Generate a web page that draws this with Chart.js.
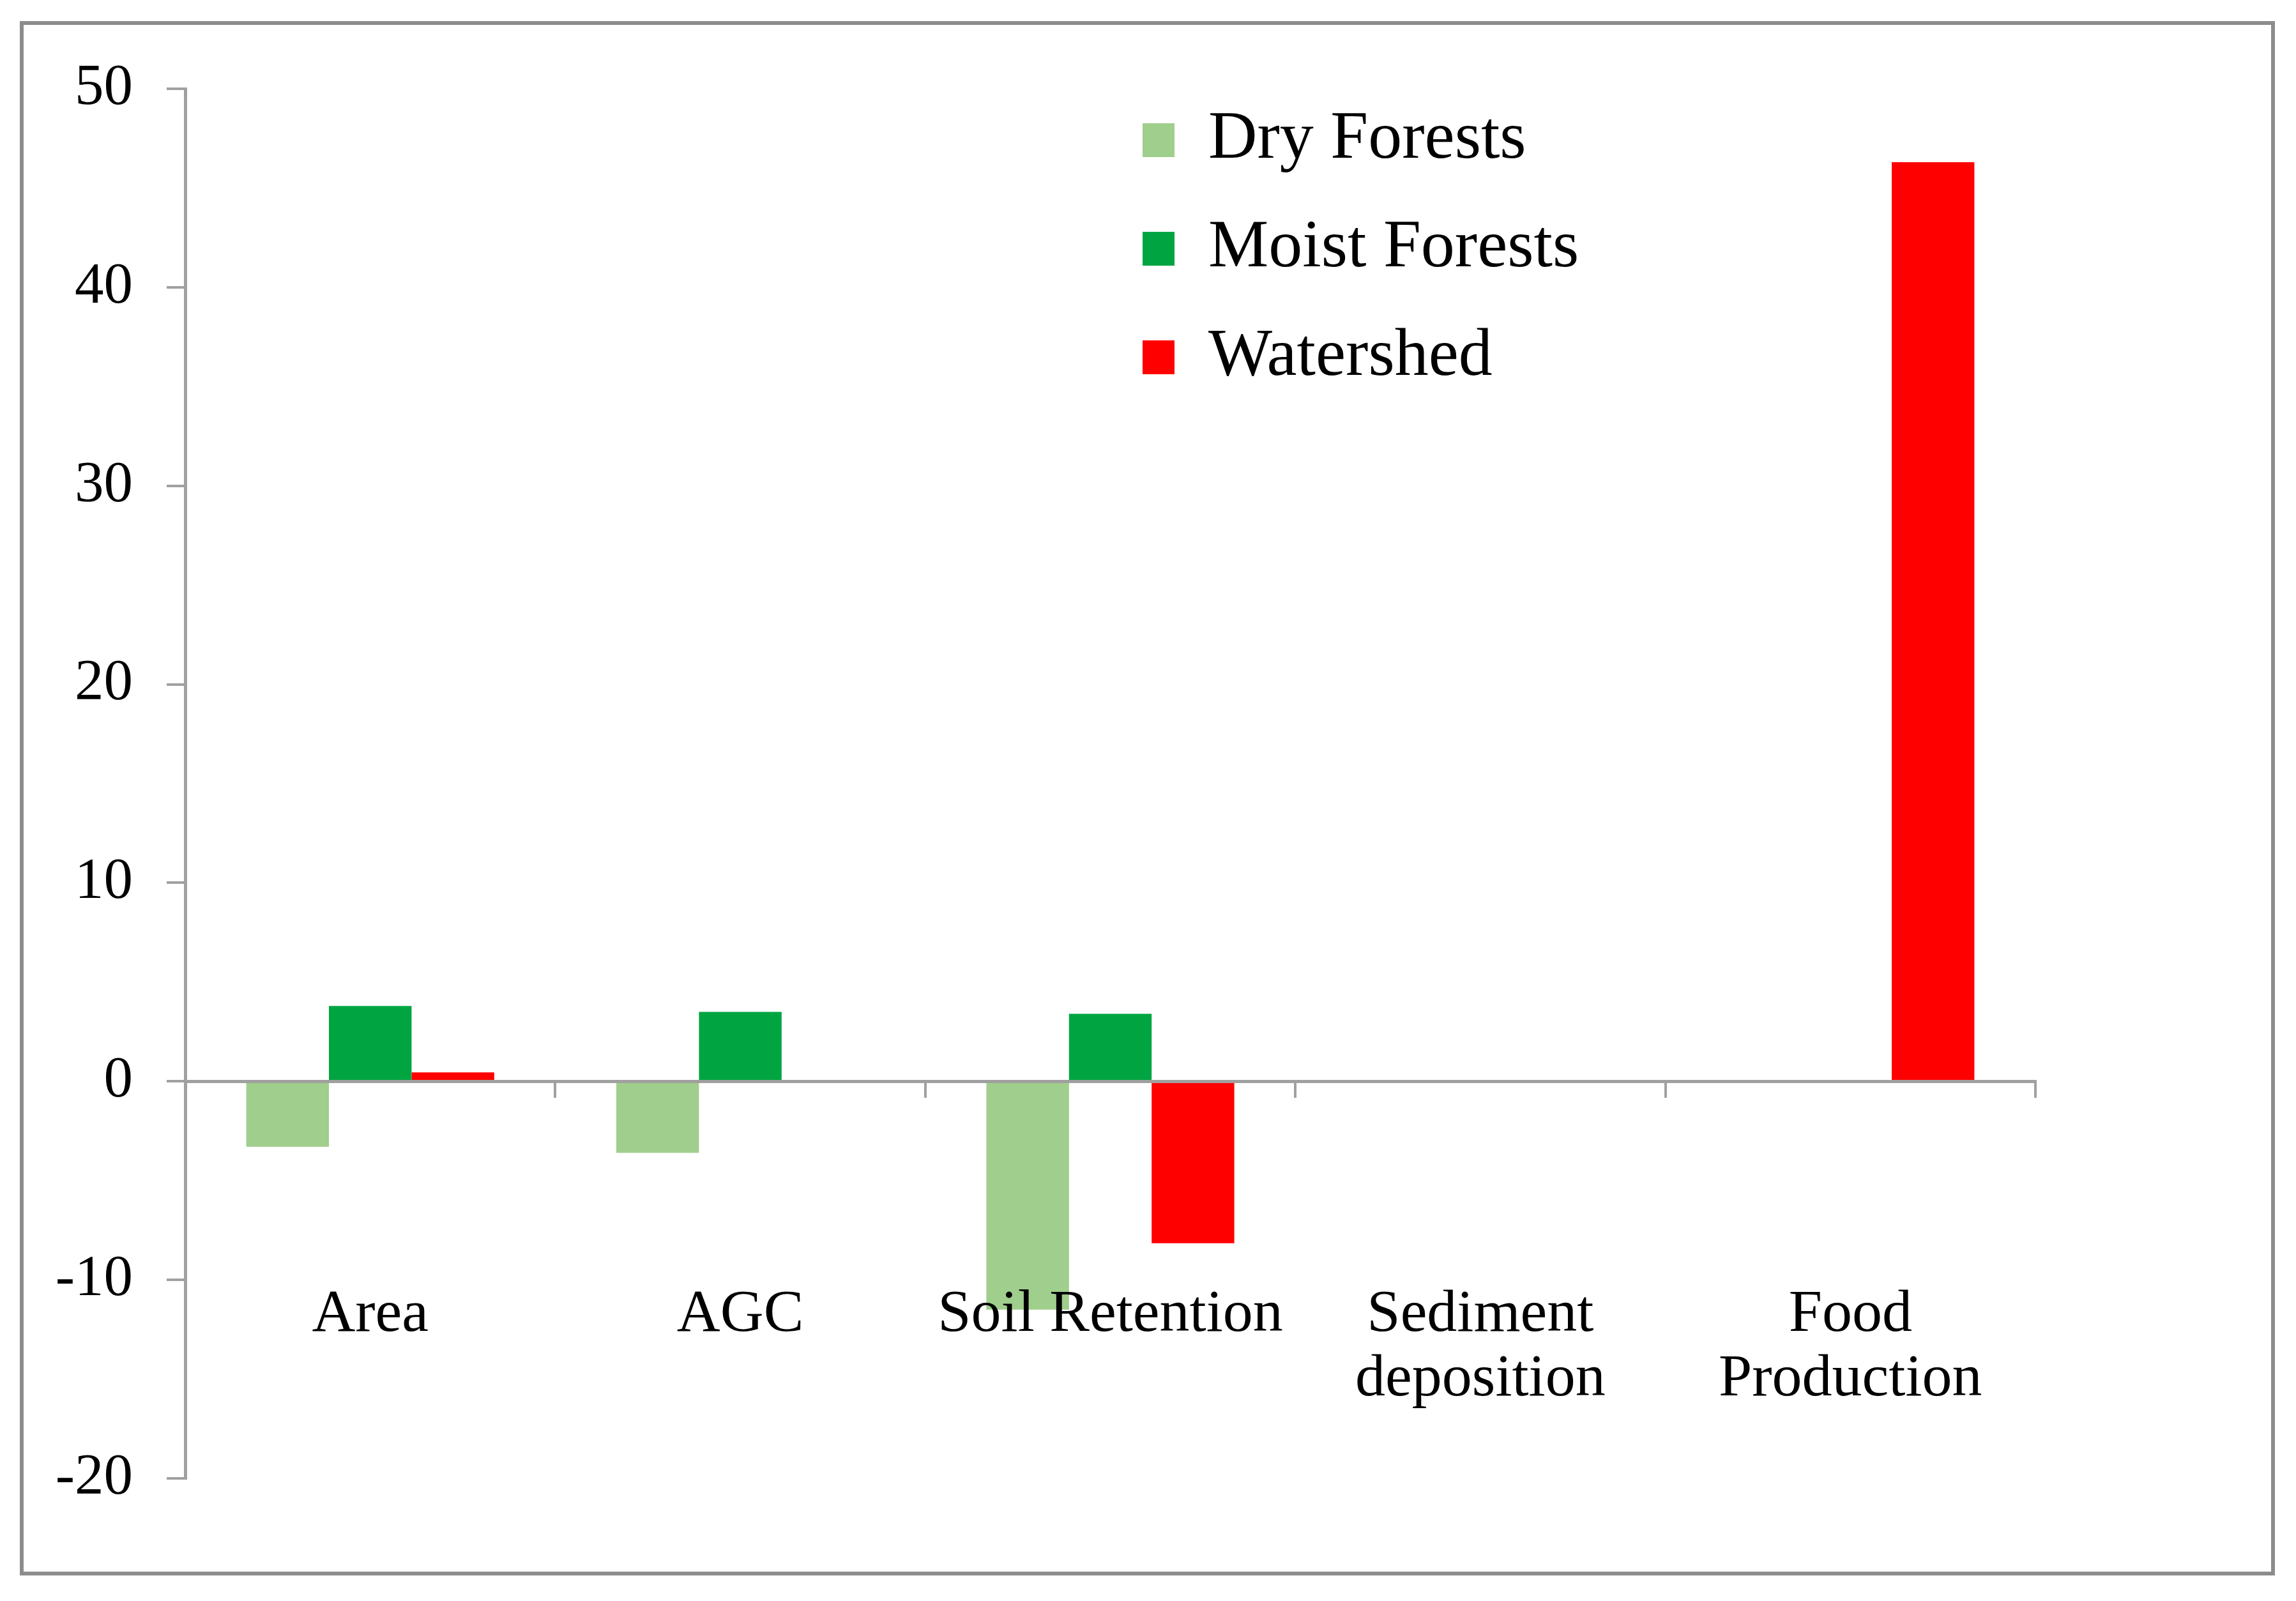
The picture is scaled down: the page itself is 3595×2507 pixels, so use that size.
<!DOCTYPE html>
<html><head><meta charset="utf-8">
<script src="https://cdn.jsdelivr.net/npm/chart.js@4.4.0/dist/chart.umd.min.js"></script>
<style>html,body{margin:0;padding:0;background:#fff;overflow:hidden}canvas{display:block}</style>
</head><body>
<canvas id="c" width="3595" height="2507"></canvas>
<script>
const categories = ['Area', 'AGC', 'Soil Retention', ['Sediment', 'deposition'], ['Food', 'Production']];
const seriesNames = ['Dry Forests', 'Moist Forests', 'Watershed'];
const dryForests = [-3.3, -3.6, -11.5, 0, 0];
const moistForests = [3.8, 3.5, 3.4, 0, 0];
const watershed = [0.45, 0, -8.15, 0, 46.3];
const yMin = -20, yMax = 50, yStep = 10;
const colors = ['#A0CE8C', '#00A542', '#FF0000'];

const FONT = "'Liberation Serif', 'Times New Roman', serif";
const AXIS = '#A0A0A0';

const LEG_PAD = 64;
const LEG_FONT = 106;
const LEG_BOXH = 53;
const LEG_BOXW = 50;

const framePlugin = {
  id: 'frame',
  beforeDraw(chart) {
    const ctx = chart.ctx;
    ctx.save();
    ctx.fillStyle = '#fff';
    ctx.fillRect(0, 0, chart.width, chart.height);
    ctx.strokeStyle = '#8C8C8C';
    ctx.lineWidth = 6;
    ctx.strokeRect(34, 36, 3525, 2428);
    ctx.restore();
  }
};

const legendPlace = {
  id: 'legendPlace',
  afterLayout(chart) {
    const l = chart.legend;
    if (!l) return;
    l.left = 1789 - LEG_PAD;
    l.top = 193 - (LEG_FONT - LEG_BOXH) / 2 - LEG_PAD;
    l.width = 1300;
    l.height = 800;
    l.right = l.left + l.width;
    l.bottom = l.top + l.height;
  }
};

new Chart(document.getElementById('c'), {
  type: 'bar',
  data: {
    labels: categories,
    datasets: [
      { label: seriesNames[0], data: dryForests, backgroundColor: colors[0], borderWidth: 0 },
      { label: seriesNames[1], data: moistForests, backgroundColor: colors[1], borderWidth: 0 },
      { label: seriesNames[2], data: watershed, backgroundColor: colors[2], borderWidth: 0 }
    ]
  },
  options: {
    responsive: false,
    animation: false,
    devicePixelRatio: 1,
    layout: { padding: { left: 0, top: 139, right: 408, bottom: 192 } },
    datasets: { bar: { barPercentage: 1, categoryPercentage: 0.67 } },
    plugins: {
      tooltip: { enabled: false },
      legend: {
        position: 'chartArea',
        align: 'start',
        labels: {
          font: { family: FONT, size: LEG_FONT },
          color: '#000',
          boxWidth: LEG_BOXW,
          boxHeight: LEG_BOXH,
          padding: LEG_PAD
        }
      }
    },
    scales: {
      x: {
        position: { y: 0 },
        offset: true,
        grid: { display: true, offset: true, drawOnChartArea: false, drawTicks: true, tickLength: 23, color: AXIS, lineWidth: 4, z: 1 },
        border: { display: true, color: AXIS, width: 5, z: 1 },
        ticks: { z: 2, font: { family: FONT, size: 94, lineHeight: 1.07 }, color: '#000', padding: 293, maxRotation: 0, autoSkip: false }
      },
      y: {
        min: yMin, max: yMax,
        afterFit(s) { s.width = 290; },
        grid: { display: true, drawOnChartArea: false, drawTicks: true, tickLength: 29, color: AXIS, lineWidth: 4 },
        border: { display: true, color: AXIS, width: 5 },
        ticks: { stepSize: yStep, font: { family: FONT, size: 91 }, color: '#000', padding: 53 }
      }
    }
  },
  plugins: [framePlugin, legendPlace]
});
</script>
</body></html>
